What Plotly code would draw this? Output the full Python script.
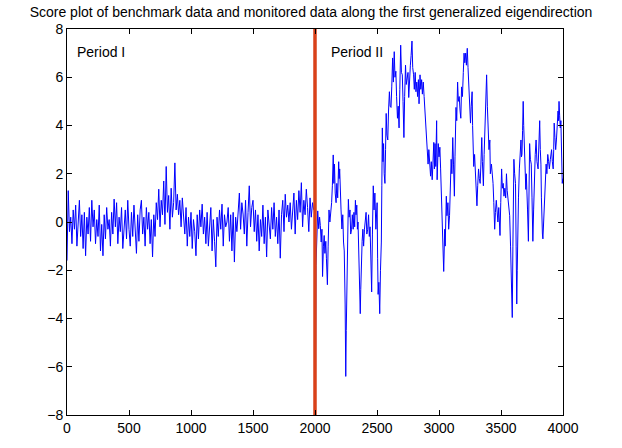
import numpy as np
import plotly.graph_objects as go

title_text = "Score plot of benchmark data and monitored data along the first generalized eigendirection"
x_ticks = [0, 500, 1000, 1500, 2000, 2500, 3000, 3500, 4000]
y_ticks = [-8, -6, -4, -2, 0, 2, 4, 6, 8]
change_point = 2000

# Period I: benchmark scores, one value every 10 samples (0..1990)
period1_step = 10
period1_values = [
    -1.6, 1.3, -0.4, 0.2, -0.9, 0.5, -0.3, 0.7, -1.0, 0.1,
    0.9, -0.6, 0.3, -1.1, 0.4, -1.4, 0.2, -0.5, 0.6, -0.8,
    0.9, -0.2, 0.5, -0.9, 0.1, -0.6, 0.7, -1.2, -0.1, -1.4,
    0.3, -0.7, 0.6, -0.3, 0.1, -1.0, 0.4, -0.5, 0.95, -0.2,
    0.8, -0.9, 0.2, -0.4, 0.6, -1.1, 0.0, 0.5, -0.7, 0.9,
    -0.3, -1.0, 0.4, -0.6, 0.7, -0.2, -1.3, 0.3, -0.8, 0.5,
    0.9, -0.5, 0.2, -1.0, 0.6, -0.3, 0.4, -0.9, 0.1, -1.45,
    0.3, -0.6, 0.8, 0.1, 1.36, -0.2, 0.9, 0.3, 1.7, -0.1,
    2.3, 0.4, 1.1, -0.3, 1.4, 0.2, 0.8, 2.45, 0.5, 1.15,
    0.3, 0.9, -0.2, 1.0, 0.1, -0.5, 0.6, -1.0, 0.2, -0.6,
    0.4, -1.1, 0.1, -0.4, -1.4, 0.3, -0.7, 0.5, -0.2, 0.74,
    -0.5, 0.2, -0.9, 0.4, -1.0, -0.3, 0.6, -1.2, 0.1, -0.8,
    -1.86, 0.2, -0.6, 0.5, -0.3, 0.74, -1.0, 0.3, -0.2, 0.0,
    0.6, -0.8, 0.3, -1.2, 0.4, -1.66, 0.2, -0.4, 0.7, 1.2,
    -0.3, 0.8, 0.33, -0.5, 0.9, -1.0, 0.4, 1.5, -0.2, 0.6,
    0.9, -0.4, 0.5, -0.8, 0.3, -1.2, 0.1, -0.6, 0.7, -0.9,
    0.2, -1.45, 0.5, 0.0, -0.7, 0.6, -0.3, 0.8, -0.6, 0.2,
    -0.9, 0.5, -1.5, 0.3, 0.9, -0.4, 1.15, 0.2, 0.7, 0.0,
    0.8, -0.3, 0.5, 1.2, -0.5, 0.9, 0.1, 1.3, 0.4, 1.63,
    -0.2, 0.9, 0.3, 1.36, 0.6, -0.4, 1.0, 0.2, 0.8, 0.5,
]

# Period II: monitored scores at read-off sample indices
period2_samples = [
    2000, 2003, 2008, 2015, 2022, 2030, 2037, 2043, 2050, 2056, 2061, 2068, 2074, 2080, 2087, 2092,
    2100, 2106, 2113, 2120, 2126, 2134, 2140, 2147, 2152, 2157, 2163, 2170, 2176, 2183, 2191, 2195,
    2199, 2204, 2210, 2217, 2224, 2230, 2236, 2243, 2248, 2252, 2256, 2262, 2269, 2275, 2282, 2288,
    2295, 2301, 2308, 2314, 2320, 2326, 2331, 2337, 2342, 2347, 2353, 2360, 2365, 2369, 2373, 2380,
    2386, 2392, 2399, 2405, 2412, 2418, 2425, 2432, 2438, 2444, 2450, 2457, 2463, 2470, 2476, 2483,
    2491, 2496, 2501, 2505, 2509, 2515, 2522, 2528, 2535, 2539, 2543, 2548, 2553, 2558, 2564, 2569,
    2574, 2580, 2587, 2593, 2600, 2606, 2613, 2619, 2626, 2632, 2639, 2645, 2652, 2658, 2665, 2671,
    2678, 2684, 2691, 2697, 2704, 2710, 2717, 2723, 2730, 2736, 2743, 2750, 2756, 2762, 2769, 2775,
    2782, 2788, 2795, 2801, 2808, 2814, 2821, 2827, 2834, 2839, 2847, 2853, 2860, 2866, 2873, 2880,
    2886, 2893, 2899, 2906, 2912, 2918, 2925, 2932, 2938, 2945, 2951, 2958, 2963, 2968, 2974, 2981,
    2985, 2994, 3000, 3007, 3013, 3020, 3026, 3033, 3038, 3046, 3050, 3059, 3064, 3072, 3078, 3085,
    3091, 3098, 3104, 3111, 3117, 3124, 3129, 3137, 3143, 3150, 3156, 3163, 3170, 3176, 3182, 3189,
    3196, 3202, 3208, 3215, 3221, 3228, 3234, 3241, 3247, 3254, 3260, 3267, 3271, 3275, 3280, 3287,
    3293, 3300, 3306, 3312, 3319, 3325, 3332, 3338, 3345, 3350, 3358, 3364, 3371, 3378, 3384, 3390,
    3397, 3403, 3410, 3414, 3423, 3430, 3436, 3442, 3449, 3455, 3462, 3468, 3475, 3482, 3492, 3498,
    3505, 3511, 3518, 3524, 3531, 3538, 3544, 3550, 3557, 3563, 3570, 3577, 3583, 3587, 3591, 3596,
    3600, 3604, 3610, 3617, 3622, 3627, 3631, 3635, 3641, 3648, 3654, 3661, 3665, 3669, 3674, 3679,
    3683, 3687, 3693, 3700, 3704, 3708, 3714, 3721, 3726, 3731, 3737, 3744, 3750, 3757, 3763, 3770,
    3776, 3783, 3790, 3799, 3806, 3812, 3817, 3822, 3826, 3830, 3834, 3838, 3844, 3851, 3857, 3864,
    3870, 3877, 3884, 3890, 3898, 3908, 3914, 3921, 3925, 3929, 3935, 3941, 3947, 3953, 3960, 3964,
    3968, 3973, 3978, 3983, 3986, 3990, 3994, 3999,
]
period2_values = [
    0.5, -7.9, -1.8, -0.5, 0.46, -0.28, 0.2, -0.15, -0.83, -0.3, -2.26, -1.0, -0.56, -1.3, -0.8, -1.5,
    -2.6, -1.0, 0.5, 0.0, 0.26, 0.8, 1.5, 2.78, 1.6, 2.4, 1.2, 0.8, 1.6, 1.0, 2.5, 1.8,
    2.2, 1.07, 0.5, -0.29, 0.3, -0.83, -1.2, -3.4, -6.4, -4.5, -3.35, -1.0, 0.94, 0.2, 0.5, -0.5,
    -0.3, 0.3, -0.3, 0.4, -0.2, 0.9, 0.3, 0.7, -0.3, 0.0, -1.2, -2.5, -3.8, -2.8, -1.6, -0.8,
    -0.3, -1.0, -0.3, 0.2, 0.4, -0.5, -0.3, 0.3, -0.6, -0.2, -1.4, -2.9, -0.5, 1.5, 0.5, 1.2,
    -0.3, 0.2, 0.8, -1.5, -3.0, -2.5, -3.8, -2.0, -0.83, 1.5, 3.9, 2.5, 3.25, 2.0, 1.6, 3.0,
    4.5, 3.6, 3.4, 4.6, 5.4, 4.8, 4.75, 5.6, 6.8, 5.8, 7.06, 6.0, 6.25, 5.2, 4.3, 4.8,
    3.9, 5.5, 7.33, 6.2, 6.1, 5.0, 3.5, 5.2, 6.5, 5.7, 5.9, 6.2, 5.16, 6.0, 6.5, 6.9,
    7.5, 6.4, 6.1, 5.5, 6.2, 5.4, 5.8, 5.2, 5.9, 4.9, 6.1, 5.5, 5.9, 5.3, 5.8, 5.2,
    4.75, 4.2, 3.6, 3.0, 2.4, 3.0, 2.6, 1.9, 2.5, 1.75, 2.4, 3.3, 2.2, 3.25, 2.3, 4.2,
    1.75, 3.25, 2.7, 3.1, 2.2, 1.2, -0.5, -1.4, -2.05, -0.3, -1.0, 1.07, 0.26, 0.8, -0.3, 0.26,
    1.5, 2.6, 2.0, 3.5, 2.4, 1.07, 2.7, 4.75, 4.2, 5.8, 5.0, 5.2, 4.6, 4.3, 5.6, 5.2,
    6.2, 7.0, 6.6, 7.0, 6.5, 7.2, 6.4, 5.4, 4.8, 4.1, 4.8, 5.4, 4.0, 3.1, 2.3, 2.8,
    1.9, 1.2, 0.67, 1.5, 2.2, 1.8, 1.6, 2.4, 3.5, 2.5, 1.5, 2.8, 4.3, 5.0, 6.1, 4.8,
    3.8, 3.0, 3.4, 2.0, 2.4, 2.0, 1.6, 0.8, -0.3, 0.4, 0.9, 0.5, 0.0, 0.6, -0.56, 0.8,
    2.2, 1.4, 1.6, 1.07, 1.4, 1.0, 2.0, 1.3, 0.8, 0.5, 0.26, -1.0, -2.7, -3.5, -3.96, -1.0,
    0.8, 2.6, 2.0, 1.6, -1.0, -3.4, -2.0, -0.15, 1.0, 2.2, 2.8, 3.4, 2.7, 2.8, 3.8, 5.0,
    4.0, 3.4, 2.5, 1.35, 2.0, 1.6, 0.5, -0.8, 1.0, 3.25, 2.6, 2.4, 1.0, -0.8, 0.5, 2.2,
    2.8, 3.4, 2.5, 2.2, 3.0, 4.2, 3.0, 2.4, 1.0, -0.3, -0.5, -0.7, 0.2, 0.94, 1.8, 2.4,
    2.0, 2.8, 2.5, 2.2, 2.6, 3.0, 2.5, 2.2, 3.0, 4.1, 3.5, 3.0, 3.4, 4.0, 4.6, 4.2,
    5.0, 4.4, 3.9, 4.2, 3.5, 2.5, 1.6, 1.8,
]

label_texts = ["Period I", "Period II"]
label_x = [65, 2113]
label_y = [7.05, 7.05]

period1_samples = list(np.arange(len(period1_values)) * period1_step)
samples = period1_samples + period2_samples
scores = period1_values + period2_values

FONT = "Liberation Sans, Arial, Helvetica"

fig = go.Figure()
fig.add_trace(go.Scatter(x=samples, y=scores, mode="lines",
                         line=dict(color="#0000ff", width=1), showlegend=False))
fig.add_trace(go.Scatter(x=[change_point, change_point], y=[y_ticks[0], y_ticks[-1]], mode="lines",
                         line=dict(color="#d9411a", width=3.5), showlegend=False))

for t, xx, yy in zip(label_texts, label_x, label_y):
    fig.add_annotation(x=xx, y=yy, xref="x", yref="y", text=t, showarrow=False,
                       xanchor="left", yanchor="middle",
                       font=dict(family=FONT, size=14, color="black"))

axis_common = dict(showline=True, linecolor="black", linewidth=1, mirror="ticks",
                   ticks="inside", ticklen=5, tickcolor="black", showgrid=False, zeroline=False,
                   tickfont=dict(family=FONT, size=14, color="black"))
fig.update_xaxes(range=[0, 4000], tickvals=x_ticks, ticktext=[str(v) for v in x_ticks], **axis_common)
fig.update_yaxes(range=[-8, 8], tickvals=y_ticks,
                 ticktext=[("\u2212" + str(-v)) if v < 0 else str(v) for v in y_ticks], **axis_common)

fig.update_layout(
    width=622, height=448,
    margin=dict(l=67, r=59, t=29, b=27),
    paper_bgcolor="white", plot_bgcolor="white",
    title=dict(text=title_text, x=0.5, xanchor="center", y=1 - 12 / 448, yanchor="middle",
               font=dict(family=FONT, size=14, color="black")),
)
fig.write_html("out.html")
